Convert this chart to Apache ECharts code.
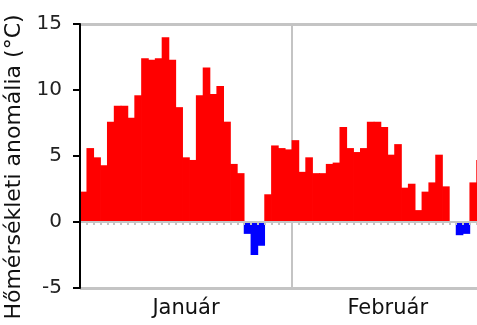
<!DOCTYPE html>
<html>
<head>
<meta charset="utf-8">
<script src="https://cdn.jsdelivr.net/npm/echarts@6/dist/echarts.min.js"></script>
<style>
html,body{margin:0;padding:0;background:#fff;}
#c{width:477px;height:325px;}
</style>
</head>
<body>
<div id="c"></div>
<script>
// Daily temperature anomaly (°C), January 1–31 then February 1–28
const januaryValues = [2.3, 5.6, 4.9, 4.3, 7.6, 8.8, 8.8, 7.9, 9.6, 12.4, 12.3, 12.4, 14.0, 12.3, 8.7, 4.9, 4.7, 9.6, 11.7, 9.7, 10.3, 7.6, 4.4, 3.7, -0.9, -2.5, -1.8, 2.1, 5.8, 5.6, 5.5];
const februaryValues = [6.2, 3.8, 4.9, 3.7, 3.7, 4.4, 4.5, 7.2, 5.6, 5.3, 5.6, 7.6, 7.6, 7.2, 5.1, 5.9, 2.6, 2.9, 0.9, 2.3, 3.0, 5.1, 2.7, 0.0, -1.0, -0.9, 3.0, 4.7];
const monthNames = ['Január', 'Február'];
const monthLengths = [31, 28];
const yTicks = [-5, 0, 5, 10, 15];
const yTitle = 'Hőmérsékleti anomália (°C)';

const days = [];
januaryValues.forEach((v, i) => days.push('jan. ' + (i + 1)));
februaryValues.forEach((v, i) => days.push('febr. ' + (i + 1)));
const values = januaryValues.concat(februaryValues);
const totalDays = monthLengths[0] + monthLengths[1];
const monthCenters = [monthLengths[0] / 2, monthLengths[0] + monthLengths[1] / 2];

const FONT = 'DejaVu Sans';
const chart = echarts.init(document.getElementById('c'), null, {renderer: 'canvas'});
const colorOf = v => (v >= 0 ? '#ff0000' : '#0000ff');
const barData = values.map(v => ({
  value: v,
  itemStyle: {color: colorOf(v)}
}));
chart.setOption({
  animation: false,
  backgroundColor: '#ffffff',
  grid: {left: 80, top: 24, bottom: 37, width: 403.5, containLabel: false, outerBoundsMode: 'none'},
  xAxis: [
    {
      type: 'category',
      data: days,
      boundaryGap: true,
      axisLine: {show: true, onZero: true, lineStyle: {color: '#c4c4c4', width: 2}},
      axisTick: {show: true, interval: 0, length: 3, lineStyle: {color: '#c4c4c4', width: 2}},
      axisLabel: {show: false},
      splitLine: {show: false},
      z: 5
    },
    {
      type: 'value',
      min: 0,
      max: totalDays,
      position: 'bottom',
      axisLine: {show: true, onZero: false, lineStyle: {color: '#c4c4c4', width: 2}},
      axisTick: {show: false},
      splitLine: {show: false},
      axisLabel: {
        show: true,
        customValues: monthCenters,
        formatter: v => (v < monthLengths[0] ? monthNames[0] : monthNames[1]),
        fontFamily: FONT,
        fontSize: 21,
        color: '#111',
        margin: 10
      }
    }
  ],
  yAxis: {
    type: 'value',
    min: yTicks[0],
    max: yTicks[yTicks.length - 1],
    interval: 5,
    name: yTitle,
    nameLocation: 'middle',
    nameRotate: 90,
    nameGap: 48,
    nameTextStyle: {fontFamily: FONT, fontSize: 22, color: '#111', padding: [0, 22, 0, 0]},
    axisLine: {show: true, lineStyle: {color: '#000', width: 2}},
    axisTick: {show: true, inside: false, length: 7, lineStyle: {color: '#000', width: 2}},
    axisLabel: {fontFamily: FONT, fontSize: 20, color: '#222', margin: 18},
    splitLine: {show: true, lineStyle: {color: ['#c4c4c4', 'transparent', 'transparent', 'transparent', '#c4c4c4'], width: 3}},
    z: 6
  },
  series: [
    {
      type: 'line',
      xAxisIndex: 1,
      yAxisIndex: 0,
      data: [],
      z: 0,
      silent: true,
      markLine: {
        silent: true,
        z: 0,
        symbol: ['none', 'none'],
        label: {show: false},
        lineStyle: {color: '#c4c4c4', width: 2, type: 'solid'},
        data: [{xAxis: monthLengths[0]}]
      }
    },
    {
      type: 'bar',
      xAxisIndex: 0,
      yAxisIndex: 0,
      data: barData,
      barWidth: 7.6,
      barGap: '-100%',
      z: 3
    }
  ]
});
</script>
</body>
</html>
